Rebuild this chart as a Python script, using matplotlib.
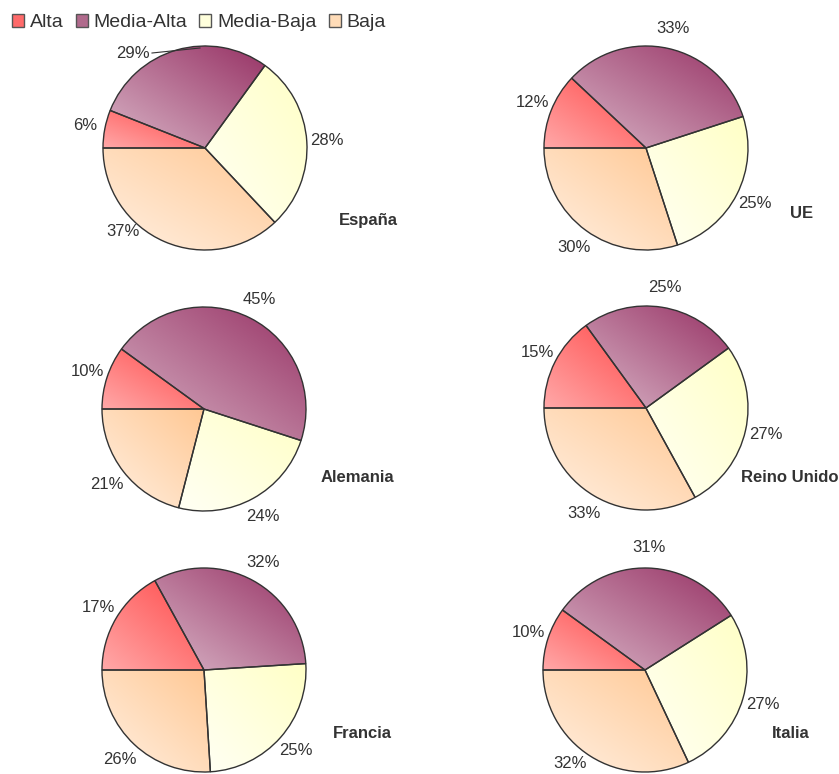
import numpy as np
import matplotlib
matplotlib.use("Agg")
import matplotlib.pyplot as plt
from matplotlib.colors import to_rgb
from matplotlib.patches import Patch

plt.rcParams['font.family'] = ['Liberation Sans', 'DejaVu Sans']

################################################
### Data
categories = ['Alta', 'Media-Alta', 'Media-Baja', 'Baja']
countries  = ['España', 'UE', 'Alemania', 'Reino Unido', 'Francia', 'Italia']
alta       = [6, 12, 10, 15, 17, 10]
media_alta = [29, 33, 45, 25, 32, 31]
media_baja = [28, 25, 24, 27, 25, 27]
baja       = [37, 30, 21, 33, 26, 32]

################################################
### Layout / style (pixel coords, y measured from the top)
W, H      = 839, 774
R         = 102
centers   = [(205, 148), (646, 148), (204, 409), (646, 408), (204, 670), (645, 670)]
title_pos = [(368, 221), (802, 214), (357, 478), (790, 478), (362, 733), (791, 733)]
# (dark, light) ends of each wedge gradient
grad = [('#ff4a4a', '#ffa8a8'),
        ('#983466', '#d8b4c6'),
        ('#ffffc6', '#fffff4'),
        ('#ffc894', '#fff0e2')]
legend_cols = ['#ff6a6a', '#b06a8c', '#ffffdc', '#ffdcb8']
txt_col  = '#333333'
edge_col = '#333333'

fig = plt.figure(figsize=(W / 100, H / 100), dpi=100)
ax = fig.add_axes([0, 0, 1, 1])
ax.set_xlim(0, W)
ax.set_ylim(0, H)
ax.axis('off')


def gradient_fill(wedge, dark, light):
    """fill wedge with a diagonal gradient: light lower-left -> dark upper-right"""
    bb = wedge.get_path().get_extents()
    n = 64
    u, v = np.meshgrid(np.linspace(0, 1, n), np.linspace(0, 1, n))
    t = (u + v) / 2.0
    d, l = np.array(to_rgb(dark)), np.array(to_rgb(light))
    img = l[None, None, :] + (d - l)[None, None, :] * t[:, :, None]
    im = ax.imshow(img, extent=[bb.x0, bb.x1, bb.y0, bb.y1], origin='lower',
                   interpolation='bilinear', zorder=2, aspect='auto')
    im.set_clip_path(wedge)


for i, name in enumerate(countries):
    vals = [alta[i], media_alta[i], media_baja[i], baja[i]]
    cx, cy = centers[i]
    wedges, _, pcts = ax.pie(vals, center=(cx, H - cy), radius=R, startangle=180,
                             counterclock=False, autopct='%1.0f%%', pctdistance=1.2,
                             wedgeprops=dict(facecolor='none', edgecolor=edge_col,
                                             linewidth=1.0, zorder=3),
                             textprops=dict(fontsize=12, color=txt_col),
                             frame=True)
    for w, (dk, lt) in zip(wedges, grad):
        gradient_fill(w, dk, lt)
    tx, ty = title_pos[i]
    ax.text(tx, H - ty, name, ha='center', va='center', fontsize=12,
            fontweight='bold', color=txt_col)
    if name == 'España':
        # labels moved by the original chart to avoid the legend
        pcts[1].set_position((133, H - 53))
        pcts[3].set_position((123, H - 232))
        ax.plot([152, 200], [H - 53, H - 48], color=txt_col, linewidth=0.8, zorder=3)
    if name == 'Italia':
        # keep the bottom label inside the picture
        pcts[3].set_position((570, H - 764))

ax.set_xlim(0, W)
ax.set_ylim(0, H)
ax.set_aspect('auto')
ax.axis('off')

handles = [Patch(facecolor=c, edgecolor='#555555', linewidth=1.0) for c in legend_cols]
fig.legend(handles, categories, loc='upper left', bbox_to_anchor=(12 / W, 1 - 14 / H),
           bbox_transform=fig.transFigure, ncol=4, frameon=False, fontsize=14,
           handlelength=0.62, handleheight=0.62, handletextpad=0.3,
           columnspacing=0.62, borderpad=0, borderaxespad=0, labelcolor=txt_col)

fig.savefig('out.png', dpi=100)
